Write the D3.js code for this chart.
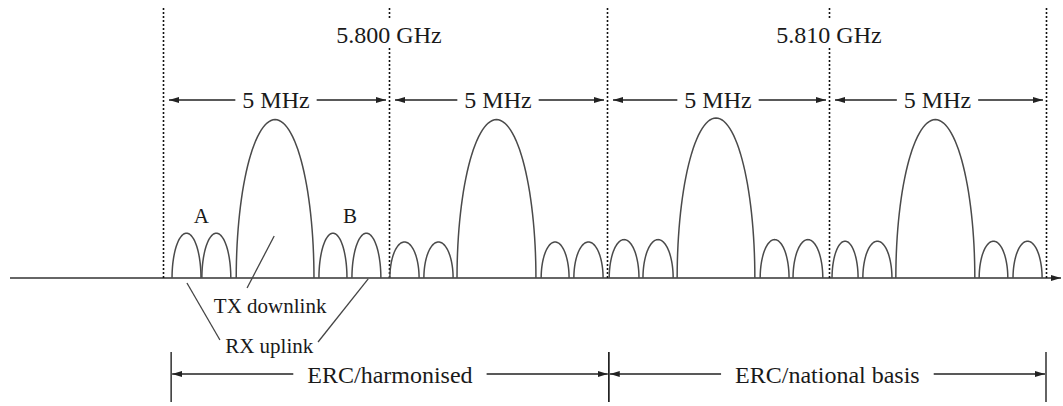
<!DOCTYPE html>
<html><head><meta charset="utf-8">
<script src="https://cdn.jsdelivr.net/npm/d3@7"></script>
<style>
html,body{margin:0;padding:0;background:#fff;}
svg{display:block;}
text{font-family:"Liberation Serif","Times New Roman",serif;fill:#1a1a1a;}
</style>
</head><body>
<svg id="chart" width="1063" height="406"></svg>
<script>
// ---------------- data ----------------
const channelEdgesMHz = [5795, 5800, 5805, 5810, 5815];
const frequencyTickValues = [5800, 5810];
const frequencyTickLabels = ["5.800 GHz", "5.810 GHz"];
const channelWidthLabel = "5 MHz";
// lobe start / end as MHz offset from each channel's lower edge
const lobeStartOffset = [
  [0.20, 0.86, 1.62, 3.45, 4.18],
  [0.02, 0.80, 1.56, 3.49, 4.24],
  [0.05, 0.81, 1.58, 3.45, 4.19],
  [0.07, 0.78, 1.54, 3.46, 4.24]
];
const lobeEndOffset = [
  [0.84, 1.50, 3.34, 4.07, 4.82],
  [0.69, 1.47, 3.37, 4.13, 4.91],
  [0.72, 1.49, 3.33, 4.10, 4.86],
  [0.67, 1.45, 3.36, 4.12, 4.91]
];
// relative lobe level (main lobe ~100)
const lobeLevel = [
  [28, 28, 99, 28, 28],
  [22.5, 22.5, 99, 22.5, 22.5],
  [24, 24, 100, 24, 24],
  [23, 23, 99, 23, 23]
];
const regulatoryLabels = ["ERC/harmonised", "ERC/national basis"];
const regulatoryStartMHz = [5795.18, 5805.04];
const regulatoryEndMHz = [5805.04, 5815];
// annotations (frequency MHz, level)
const sideLobeLabels = ["A", "B"];
const sideLobeLabelMHz = [5795.85, 5799.14];
const sideLobeLabelLevel = [34.4, 34.4];
const linkLabels = ["TX downlink", "RX uplink"];
const linkLabelMHz = [5797.37, 5797.35];
const linkLabelLevel = [-21.9, -46.9];
// leader lines [f1, l1, f2, l2]
const leaderLines = [
  [5797.46, 26.25, 5796.86, -6.25],
  [5795.53, -3.1, 5796.26, -38.75],
  [5799.54, -0.6, 5798.43, -40]
];

// ---------------- layout ----------------
const svg = d3.select("#chart");
const baseY = 278, topY = 8;
const x = d3.scaleLinear().domain(channelEdgesMHz).range([163, 389, 607, 829, 1046]);
const y = d3.scaleLinear().domain([0, 100]).range([baseY, 118]);
const ink = "#222", lobeInk = "#4a4a4a";

const defs = svg.append("defs");
function marker(id, dir) {
  const m = defs.append("marker").attr("id", id)
    .attr("markerUnits", "userSpaceOnUse")
    .attr("markerWidth", 10).attr("markerHeight", 8)
    .attr("viewBox", "0 0 10 8").attr("refY", 4)
    .attr("refX", dir > 0 ? 10 : 0).attr("orient", "0");
  m.append("path").attr("d", dir > 0 ? "M0,1 L10,4 L0,7 Z" : "M10,1 L0,4 L10,7 Z").attr("fill", ink);
}
marker("ahR", 1); marker("ahL", -1);

// baseline (frequency axis)
svg.append("line").attr("x1", 10).attr("x2", 1061).attr("y1", baseY).attr("y2", baseY)
  .attr("stroke", "#333").attr("stroke-width", 1.6).attr("marker-end", "url(#ahR)");

// dotted channel edges
svg.selectAll("line.edge").data(channelEdgesMHz).join("line").attr("class", "edge")
  .attr("x1", d => Math.round(x(d)) + 0.5).attr("x2", d => Math.round(x(d)) + 0.5)
  .attr("y1", topY).attr("y2", baseY)
  .attr("stroke", "#111").attr("stroke-width", 1.6).attr("stroke-dasharray", "2,2");

// frequency labels with white background
frequencyTickValues.forEach((f, i) => {
  const g = svg.append("g");
  const r = g.append("rect").attr("fill", "#fff");
  const t = g.append("text").attr("x", x(f)).attr("y", 43).attr("text-anchor", "middle")
    .attr("font-size", 24).text(frequencyTickLabels[i]);
  const w = t.node().getComputedTextLength();
  r.attr("x", x(f) - w / 2 - 2).attr("width", w + 4).attr("y", 19).attr("height", 27);
});

// 5 MHz arrows
const arrowY = 100;
for (let c = 0; c < channelEdgesMHz.length - 1; c++) {
  const a = x(channelEdgesMHz[c]) + 6, b = x(channelEdgesMHz[c + 1]) - 3;
  const cx = (x(channelEdgesMHz[c]) + x(channelEdgesMHz[c + 1])) / 2;
  const t = svg.append("text").attr("x", cx).attr("y", 108).attr("text-anchor", "middle")
    .attr("font-size", 24).text(channelWidthLabel);
  const w = t.node().getComputedTextLength();
  svg.append("line").attr("x1", cx - w / 2 - 7).attr("x2", a).attr("y1", arrowY).attr("y2", arrowY)
    .attr("stroke", ink).attr("stroke-width", 1.3).attr("marker-end", "url(#ahL)");
  svg.append("line").attr("x1", cx + w / 2 + 7).attr("x2", b).attr("y1", arrowY).attr("y2", arrowY)
    .attr("stroke", ink).attr("stroke-width", 1.3).attr("marker-end", "url(#ahR)");
}

// lobes (semi-elliptic spectral lobes)
const lobeLine = d3.line().x(d => x(d[0])).y(d => y(d[1]));
const lobes = [];
lobeStartOffset.forEach((row, c) => {
  row.forEach((s, k) => {
    const f0 = channelEdgesMHz[c] + s, f1 = channelEdgesMHz[c] + lobeEndOffset[c][k];
    lobes.push({ f0, f1, h: lobeLevel[c][k] });
  });
});
svg.selectAll("path.lobe").data(lobes).join("path").attr("class", "lobe")
  .attr("d", d => {
    const pts = d3.range(0, 61).map(i => {
      const th = Math.PI * i / 60;
      const fc = (d.f0 + d.f1) / 2, a = (d.f1 - d.f0) / 2;
      return [fc - a * Math.cos(th), d.h * Math.sin(th)];
    });
    return lobeLine(pts);
  })
  .attr("fill", "none").attr("stroke", lobeInk).attr("stroke-width", 1.5);

// A / B labels
sideLobeLabels.forEach((s, i) => {
  svg.append("text").attr("x", x(sideLobeLabelMHz[i])).attr("y", y(sideLobeLabelLevel[i]))
    .attr("text-anchor", "middle").attr("font-size", 21).text(s);
});

// leader lines
svg.selectAll("line.leader").data(leaderLines).join("line").attr("class", "leader")
  .attr("x1", d => x(d[0])).attr("y1", d => y(d[1])).attr("x2", d => x(d[2])).attr("y2", d => y(d[3]))
  .attr("stroke", "#444").attr("stroke-width", 1.3);

// TX / RX labels
linkLabels.forEach((s, i) => {
  svg.append("text").attr("x", x(linkLabelMHz[i])).attr("y", y(linkLabelLevel[i]))
    .attr("text-anchor", "middle").attr("font-size", 21).text(s);
});

// regulatory bands
const regY = 374;
regulatoryLabels.forEach((s, i) => {
  const a = x(regulatoryStartMHz[i]), b = x(regulatoryEndMHz[i]);
  const cx = (a + b) / 2;
  [a, b].forEach(px => svg.append("line").attr("x1", px).attr("x2", px).attr("y1", 352).attr("y2", 402)
    .attr("stroke", ink).attr("stroke-width", 1.4));
  const t = svg.append("text").attr("x", cx).attr("y", 383).attr("text-anchor", "middle")
    .attr("font-size", 24).text(s);
  const w = t.node().getComputedTextLength();
  svg.append("line").attr("x1", cx - w / 2 - 14).attr("x2", a + 1).attr("y1", regY).attr("y2", regY)
    .attr("stroke", ink).attr("stroke-width", 1.3).attr("marker-end", "url(#ahL)");
  svg.append("line").attr("x1", cx + w / 2 + 14).attr("x2", b - 1).attr("y1", regY).attr("y2", regY)
    .attr("stroke", ink).attr("stroke-width", 1.3).attr("marker-end", "url(#ahR)");
});
</script>
</body></html>
